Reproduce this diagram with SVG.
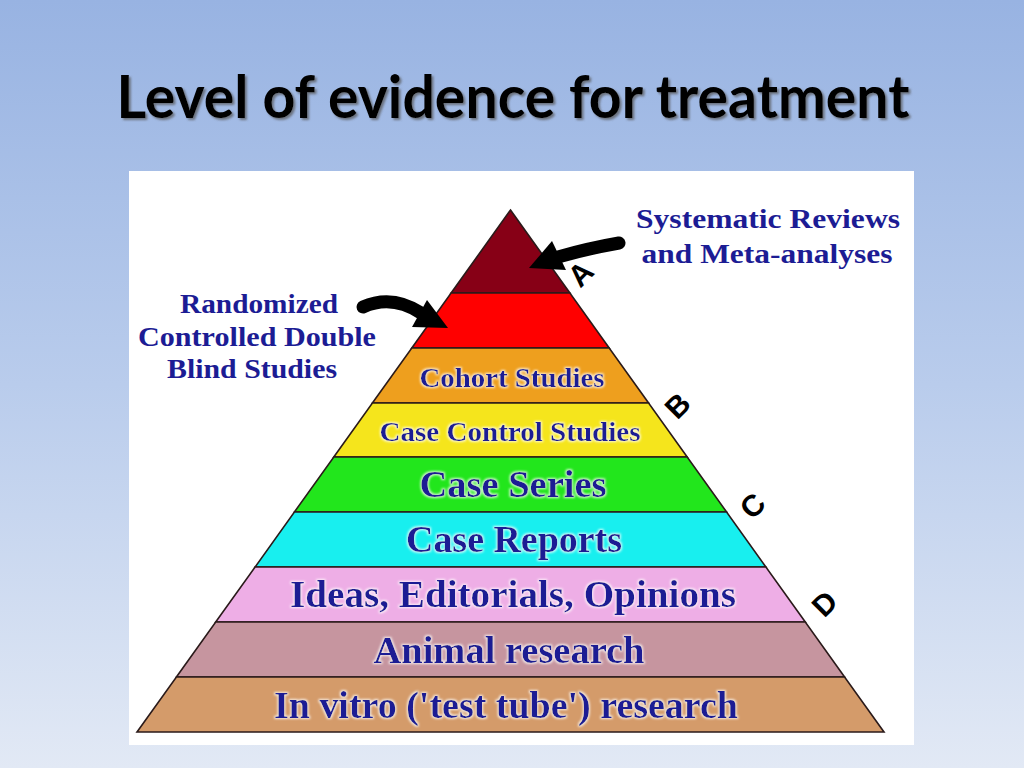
<svg xmlns="http://www.w3.org/2000/svg" width="1024" height="768" viewBox="0 0 1024 768">
<defs>
  <linearGradient id="bg" x1="0" y1="0" x2="0" y2="1">
    <stop offset="0" stop-color="#98B3E2"/>
    <stop offset="0.5" stop-color="#B9CCEC"/>
    <stop offset="1" stop-color="#E2E9F5"/>
  </linearGradient>
  <filter id="shadow" x="-5%" y="-20%" width="110%" height="150%">
    <feDropShadow dx="2" dy="2" stdDeviation="1.2" flood-color="#555" flood-opacity="0.7"/>
  </filter>
  <filter id="glow" x="-5%" y="-20%" width="110%" height="150%">
    <feMorphology in="SourceAlpha" operator="dilate" radius="1.2" result="d"/>
    <feGaussianBlur in="d" stdDeviation="1.2" result="b"/>
    <feFlood flood-color="#ffffff" flood-opacity="0.8"/>
    <feComposite in2="b" operator="in" result="g"/>
    <feMerge><feMergeNode in="g"/><feMergeNode in="SourceGraphic"/></feMerge>
  </filter>
</defs>
<style>
  .layer { stroke: #2a1a1a; stroke-width: 1.6; stroke-linejoin: miter; }
  .lbl { font-family: "Liberation Serif", "Times New Roman", serif; font-weight: bold; fill: #1C1C94; text-anchor: middle; filter: url(#glow); }
  .side { font-family: "Liberation Serif", "Times New Roman", serif; font-weight: bold; fill: #1C1C94; text-anchor: middle; font-size: 28px; }
  .letter { font-family: "Liberation Sans", Arial, sans-serif; font-weight: bold; font-size: 30px; fill: #000; text-anchor: middle; }
  .shaft { fill: none; stroke: #000; stroke-width: 13; stroke-linecap: round; }
</style>
<rect width="1024" height="768" fill="url(#bg)"/>
<text x="513" y="118" font-family="Lato, 'Open Sans', sans-serif" font-weight="bold" font-size="60" fill="#000" text-anchor="middle" textLength="793" lengthAdjust="spacingAndGlyphs" filter="url(#shadow)">Level of evidence for treatment</text>
<rect x="129" y="171" width="785" height="574" fill="#FFFFFF"/>

<g id="layer-systematic"><polygon class="layer" points="510.5,210 569.9,293 451.1,293" fill="#870016"/></g>
<g id="layer-rct"><polygon class="layer" points="451.1,293 569.9,293 609.2,348 411.8,348" fill="#FF0000"/></g>
<g id="layer-cohort"><polygon class="layer" points="411.8,348 609.2,348 648.6,403 372.4,403" fill="#EE9F1E"/>
  <text class="lbl" x="512" y="387" font-size="28" textLength="185" lengthAdjust="spacingAndGlyphs">Cohort Studies</text></g>
<g id="layer-casecontrol"><polygon class="layer" points="372.4,403 648.6,403 687.2,457 333.8,457" fill="#F5E51C"/>
  <text class="lbl" x="510" y="441" font-size="28" textLength="261" lengthAdjust="spacingAndGlyphs">Case Control Studies</text></g>
<g id="layer-caseseries"><polygon class="layer" points="333.8,457 687.2,457 726.6,512 294.4,512" fill="#22E61C"/>
  <text class="lbl" x="513" y="497" font-size="37" textLength="187" lengthAdjust="spacingAndGlyphs">Case Series</text></g>
<g id="layer-casereports"><polygon class="layer" points="294.4,512 726.6,512 765.9,567 255.1,567" fill="#18EFEF"/>
  <text class="lbl" x="514" y="552" font-size="37" textLength="216" lengthAdjust="spacingAndGlyphs">Case Reports</text></g>
<g id="layer-ideas"><polygon class="layer" points="255.1,567 765.9,567 805.3,622 215.7,622" fill="#EEAEE6"/>
  <text class="lbl" x="513" y="607" font-size="37" textLength="446" lengthAdjust="spacingAndGlyphs">Ideas, Editorials, Opinions</text></g>
<g id="layer-animal"><polygon class="layer" points="215.7,622 805.3,622 844.6,677 176.4,677" fill="#C6959F"/>
  <text class="lbl" x="509" y="663" font-size="37" textLength="271" lengthAdjust="spacingAndGlyphs">Animal research</text></g>
<g id="layer-invitro"><polygon class="layer" points="176.4,677 844.6,677 884,732 137,732" fill="#D49B6A"/>
  <text class="lbl" x="506" y="718" font-size="37" textLength="464" lengthAdjust="spacingAndGlyphs">In vitro ('test tube') research</text></g>

<g id="label-systematic">
  <text class="side" x="768" y="228" textLength="264" lengthAdjust="spacingAndGlyphs">Systematic Reviews</text>
  <text class="side" x="767" y="263" textLength="251" lengthAdjust="spacingAndGlyphs">and Meta-analyses</text>
</g>
<g id="label-rct">
  <text class="side" x="259" y="313" textLength="158" lengthAdjust="spacingAndGlyphs">Randomized</text>
  <text class="side" x="257" y="346" textLength="238" lengthAdjust="spacingAndGlyphs">Controlled Double</text>
  <text class="side" x="252" y="378" textLength="170" lengthAdjust="spacingAndGlyphs">Blind Studies</text>
</g>

<g id="connectors">
  <path class="shaft" d="M619 243 Q590 248 558 257"/>
  <polygon points="529,268 552,241 566,270" fill="#000"/>
  <path class="shaft" d="M363 307 Q392 294 421 313"/>
  <polygon points="448,328 427,300 412,327" fill="#000"/>
</g>

<g id="letters">
  <text class="letter" transform="translate(588,281) rotate(-45)">A</text>
  <text class="letter" transform="translate(685,413) rotate(-45)">B</text>
  <text class="letter" transform="translate(760,513) rotate(-45)">C</text>
  <text class="letter" transform="translate(832,611) rotate(-45)">D</text>
</g>
</svg>
